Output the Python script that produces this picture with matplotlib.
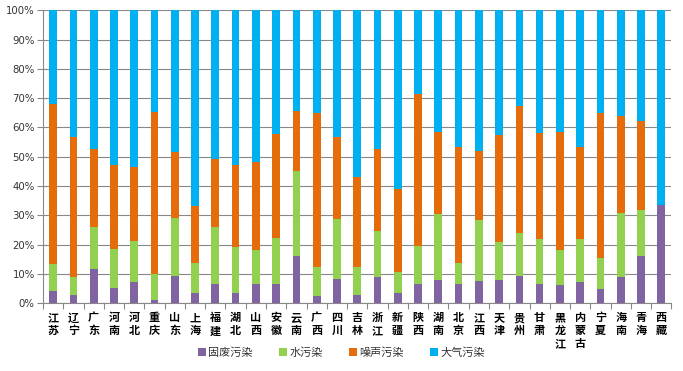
import matplotlib
matplotlib.use("Agg")
import matplotlib.pyplot as plt
import numpy as np

plt.rcParams['font.family'] = ['Noto Sans CJK SC', 'DejaVu Sans']

provinces = ["江苏", "辽宁", "广东", "河南", "河北", "重庆", "山东", "上海", "福建", "湖北",
             "山西", "安徽", "云南", "广西", "四川", "吉林", "浙江", "新疆", "陕西", "湖南",
             "北京", "江西", "天津", "贵州", "甘肃", "黑龙江", "内蒙古", "宁夏", "海南", "青海", "西藏"]

# cumulative tops (%)
solid_waste = [4.2, 2.6, 11.8, 5.2, 7.3, 1.0, 9.1, 3.6, 6.5, 3.4,
               6.6, 6.6, 16.1, 2.3, 8.2, 2.8, 8.8, 3.4, 6.6, 8.0,
               6.4, 7.6, 8.0, 9.1, 6.4, 6.2, 7.3, 4.9, 9.0, 16.1, 33.4]
water_top = [13.3, 8.8, 25.9, 18.5, 21.1, 10.0, 29.2, 13.8, 25.9, 19.0,
             18.1, 22.4, 45.1, 12.4, 28.9, 12.3, 24.5, 10.7, 19.6, 30.6,
             13.8, 28.4, 20.8, 24.1, 21.8, 18.1, 21.8, 15.5, 30.8, 31.7, 33.4]
noise_top = [68.1, 56.6, 52.6, 47.2, 46.6, 65.4, 51.7, 33.1, 49.1, 47.2,
             48.3, 57.9, 65.5, 65.1, 56.8, 43.1, 52.7, 39.1, 71.5, 58.5,
             53.2, 52.1, 57.5, 67.4, 58.1, 58.4, 53.2, 64.9, 63.9, 62.1, 33.4]

series_names = ["固废污染", "水污染", "噪声污染", "大气污染"]
colors = ["#8064A2", "#92D050", "#E46C0A", "#00B0F0"]

sw = np.array(solid_waste)
water = np.array(water_top) - sw
noise = np.array(noise_top) - np.array(water_top)
air = 100 - np.array(noise_top)

fig = plt.figure(figsize=(6.83, 3.71), dpi=100)
ax = fig.add_axes([0.063, 0.183, 0.92, 0.789])

x = np.arange(len(provinces))
w = 0.38
bottom = np.zeros(len(provinces))
for vals, c, name in zip([sw, water, noise, air], colors, series_names):
    ax.bar(x, vals, w, bottom=bottom, color=c, label=name, zorder=3)
    bottom = bottom + vals

ax.set_xlim(-0.5, len(provinces) - 0.5)
ax.set_ylim(0, 100)
ax.set_yticks(np.arange(0, 101, 10))
ax.set_yticklabels([f"{v}%" for v in range(0, 101, 10)], fontsize=7.3, color="#333333",
                   family=['DejaVu Sans'])
ax.yaxis.grid(True, color="#888888", linewidth=0.8, zorder=0)
ax.tick_params(axis='y', length=4, color="#888888", pad=2)

for s in ['top', 'right']:
    ax.spines[s].set_visible(False)
for s in ['left', 'bottom']:
    ax.spines[s].set_color("#888888")

# category boundary ticks
ax.set_xticks(np.arange(-0.5, len(provinces), 1.0), minor=False)
ax.set_xticklabels([])
ax.tick_params(axis='x', length=4, color="#888888", direction='out')
for i, p in enumerate(provinces):
    ax.text(i, -2.8, "\n".join(p), ha='center', va='top', fontsize=8, fontweight='bold',
            linespacing=1.0, transform=ax.transData, color="#000000", clip_on=False)

leg = fig.legend(loc='center', bbox_to_anchor=(0.5, 0.05), ncol=4, frameon=False,
                 fontsize=8, handlelength=0.7, handleheight=0.7, handletextpad=0.2,
                 columnspacing=2.4)
for t in leg.get_texts():
    t.set_color("#333333")

fig.savefig("out.png", dpi=100)
